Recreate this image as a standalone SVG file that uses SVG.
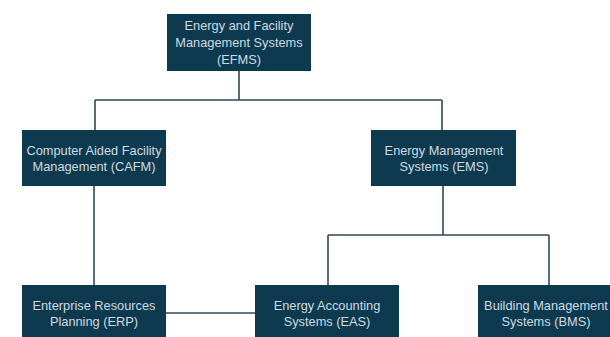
<svg xmlns="http://www.w3.org/2000/svg" width="610" height="337" viewBox="0 0 610 337">
<style>
.box{fill:#0e3a50}
.t{font-family:"Liberation Sans",Arial,sans-serif;font-size:12.8px;fill:#cfdae0;text-anchor:middle}
.c{fill:none;stroke:#2e4a58;stroke-width:1.6}
</style>
<rect width="610" height="337" fill="#ffffff"/>
<g id="connectors">
<path class="c" d="M239,71 V100 M95,100 H442 M95,100 V130 M442,100 V130"/>
<path class="c" d="M94,186 V285"/>
<path class="c" d="M443,186 V235 M328,235 H549 M328,235 V285 M549,235 V285"/>
<path class="c" d="M166,313 H255"/>
</g>
<g id="efms">
<rect class="box" x="167" y="14" width="144" height="57"/>
<text class="t" x="239" y="30">Energy and Facility</text>
<text class="t" x="239" y="47">Management Systems</text>
<text class="t" x="239" y="64">(EFMS)</text>
</g>
<g id="cafm">
<rect class="box" x="22" y="130" width="144" height="56"/>
<text class="t" x="94" y="155">Computer Aided Facility</text>
<text class="t" x="94" y="171">Management (CAFM)</text>
</g>
<g id="ems">
<rect class="box" x="371" y="130" width="145" height="56"/>
<text class="t" x="444" y="155">Energy Management</text>
<text class="t" x="444" y="171">Systems (EMS)</text>
</g>
<g id="erp">
<rect class="box" x="22" y="285" width="144" height="60"/>
<text class="t" x="94" y="310">Enterprise Resources</text>
<text class="t" x="94" y="326">Planning (ERP)</text>
</g>
<g id="eas">
<rect class="box" x="255" y="285" width="144" height="60"/>
<text class="t" x="327" y="310">Energy Accounting</text>
<text class="t" x="327" y="326">Systems (EAS)</text>
</g>
<g id="bms">
<rect class="box" x="478" y="285" width="142" height="60"/>
<text class="t" x="546" y="310">Building Management</text>
<text class="t" x="546" y="326">Systems (BMS)</text>
</g>
</svg>
